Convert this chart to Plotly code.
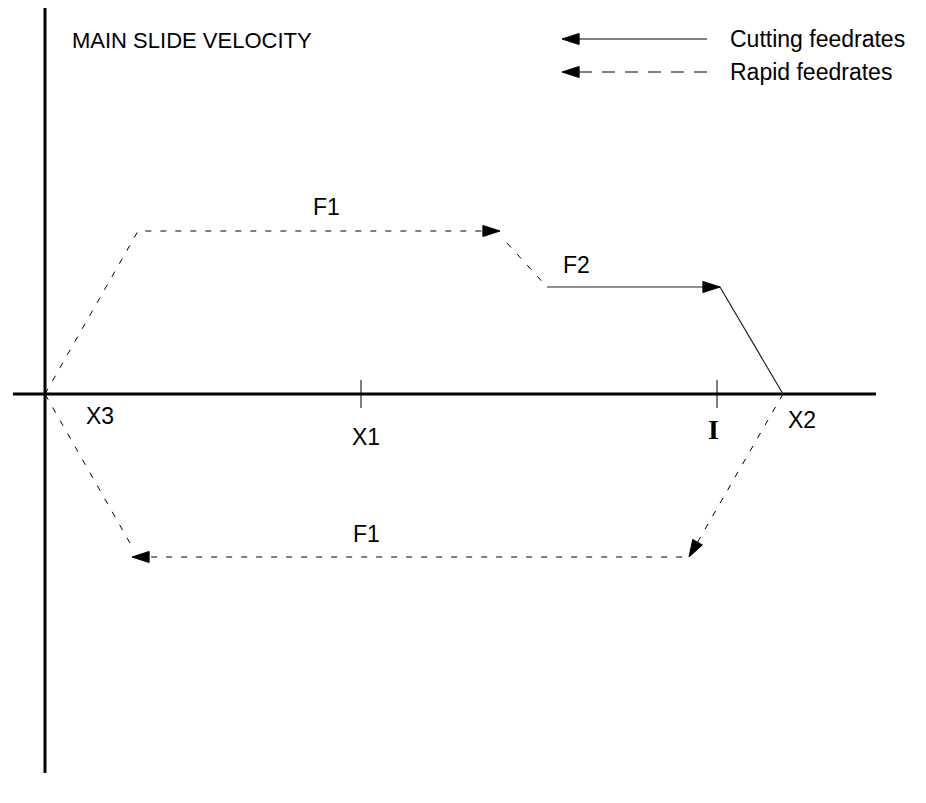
import plotly.graph_objects as go

# ------------------------------------------------------------
# Data (slide position along X, slide velocity along Y)
# ------------------------------------------------------------

tick_labels = ["X3", "X1", "I", "X2"]
tick_pos = [0.0, 31.6, 67.2, 73.8]

# forward rapid approach at F1 (dashed)
rapid_fwd_x = [0.0, 9.3, 45.5]
rapid_fwd_y = [0.0, 16.3, 16.3]

# rapid slow-down from F1 to F2 (dashed)
slow_x = [46.2, 50.2]
slow_y = [15.1, 10.7]

# cutting feed F2 (solid) ending at X2
cut_x = [50.2, 67.5, 73.8]
cut_y = [10.7, 10.7, 0.0]

# rapid return at F1 (dashed)
rapid_ret_x = [73.8, 64.4, 8.7]
rapid_ret_y = [0.0, -16.3, -16.3]

# return back to X3 (dashed)
back_x = [8.5, 0.0]
back_y = [-14.9, 0.0]

axis_x = [-3.2, 83.1]
axis_y = [38.6, -37.9]

FONT = "Liberation Sans, Arial"
BLACK = "#000000"
XR = [-4.5, 88.1]
YR = [-40.9, 39.4]
W, H = 926, 803
ARROW = 18
head_marker = dict(symbol="arrow", size=[0, ARROW], angleref="previous",
                   color=BLACK, opacity=1, line=dict(width=1, color=BLACK))

fig = go.Figure()

# main axes
fig.add_trace(go.Scatter(x=axis_x, y=[0, 0], mode="lines",
                         line=dict(color=BLACK, width=3)))
fig.add_trace(go.Scatter(x=[0, 0], y=axis_y, mode="lines",
                         line=dict(color=BLACK, width=3)))

# tick marks at X1 and I
fig.add_trace(go.Scatter(x=[tick_pos[1], tick_pos[2]], y=[0, 0], mode="markers",
                         marker=dict(symbol="line-ns", size=20,
                                     line=dict(color=BLACK, width=1))))

dash = dict(color=BLACK, width=1, dash="6px,9px")
solid = dict(color="#222222", width=1.2)

fig.add_trace(go.Scatter(x=rapid_fwd_x, y=rapid_fwd_y, mode="lines", line=dash))
fig.add_trace(go.Scatter(x=slow_x, y=slow_y, mode="lines", line=dash))
fig.add_trace(go.Scatter(x=cut_x, y=cut_y, mode="lines", line=solid))
fig.add_trace(go.Scatter(x=rapid_ret_x, y=rapid_ret_y, mode="lines", line=dash))
fig.add_trace(go.Scatter(x=back_x, y=back_y, mode="lines", line=dash))


# arrow heads: marker at the tip, pointed along the segment
def head(xs, ys, i):
    fig.add_trace(go.Scatter(x=[xs[i - 1], xs[i]], y=[ys[i - 1], ys[i]],
                             mode="markers", marker=head_marker))


head(rapid_fwd_x, rapid_fwd_y, 2)
head(cut_x, cut_y, 1)
head(rapid_ret_x, rapid_ret_y, 1)
head(rapid_ret_x, rapid_ret_y, 2)

# labels
lab = dict(showarrow=False, font=dict(family=FONT, size=23, color=BLACK))
fig.add_annotation(x=tick_pos[0] + 5.5, y=-2.2, text=tick_labels[0], **lab)
fig.add_annotation(x=tick_pos[1] + 0.5, y=-4.3, text=tick_labels[1], **lab)
fig.add_annotation(x=tick_pos[2] - 0.4, y=-3.5, text="<b>" + tick_labels[2] + "</b>",
                   showarrow=False,
                   font=dict(family="Liberation Serif, Times New Roman", size=28, color=BLACK))
fig.add_annotation(x=tick_pos[3] + 1.9, y=-2.6, text=tick_labels[3], **lab)

fig.add_annotation(x=28.1, y=rapid_fwd_y[1] + 2.4, text="F1", **lab)
fig.add_annotation(x=53.1, y=cut_y[0] + 2.2, text="F2", **lab)
fig.add_annotation(x=32.1, y=rapid_ret_y[1] + 2.3, text="F1", **lab)

fig.add_annotation(x=2.5, y=35.4, text="MAIN SLIDE VELOCITY", xanchor="left",
                   showarrow=False, font=dict(family=FONT, size=22, color=BLACK))


# legend (drawn by hand, pixel positions turned into axis units)
def px(x, y):
    return (XR[0] + (XR[1] - XR[0]) * x / W,
            YR[1] - (YR[1] - YR[0]) * y / H)


(lx0, ly1), (lx1, ly2) = px(562, 39), px(707, 72)
fig.add_trace(go.Scatter(x=[lx1, lx0], y=[ly1, ly1], mode="lines+markers",
                         line=dict(color=BLACK, width=1), marker=head_marker))
fig.add_trace(go.Scatter(x=[lx1, lx0], y=[ly2, ly2], mode="lines+markers",
                         line=dict(color=BLACK, width=1, dash="13px,10px"),
                         marker=head_marker))
leg = dict(xref="paper", yref="paper", xanchor="left", yanchor="middle",
           showarrow=False, font=dict(family=FONT, size=23, color=BLACK))
fig.add_annotation(x=728 / W, y=1 - 39 / H, text="Cutting feedrates", **leg)
fig.add_annotation(x=728 / W, y=1 - 72 / H, text="Rapid feedrates", **leg)

fig.update_xaxes(range=XR, visible=False)
fig.update_yaxes(range=YR, visible=False)
fig.update_layout(width=W, height=H, margin=dict(l=0, r=0, t=0, b=0),
                  showlegend=False, plot_bgcolor="white", paper_bgcolor="white")

fig.write_html("out.html", config={"displayModeBar": False},
               post_script="document.body.style.margin='0';")
